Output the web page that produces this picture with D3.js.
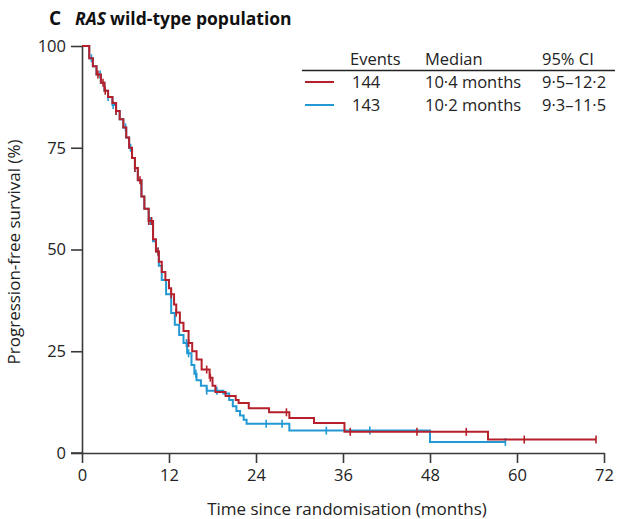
<!DOCTYPE html>
<html>
<head>
<meta charset="utf-8">
<script src="https://cdn.jsdelivr.net/npm/d3@7"></script>
<style>
  body { margin: 0; background: #fff; }
  svg { font-family: "Open Sans", Lato, sans-serif; }
</style>
</head>
<body>
<svg width="625" height="519"></svg>
<script>
// Kaplan-Meier steps: time (months) and survival (%) after each drop
const redTimes = [0, 1.0, 1.5, 2.0, 2.6, 3.1, 3.6, 4.2, 4.7, 5.2, 5.7, 6.1, 6.5, 6.9, 7.3, 7.7, 8.2, 8.6, 9.2, 9.8, 10.2, 10.6, 11.0, 11.5, 12.0, 12.3, 12.7, 13.0, 13.5, 14.0, 14.7, 15.2, 15.8, 16.5, 17.6, 18.0, 18.4, 19.8, 21.2, 21.6, 23.0, 25.8, 28.6, 32.0, 36.2, 56.0];
const redSurv  = [100, 97, 95, 93, 91, 89, 87.5, 86, 84, 82, 80, 77.5, 75, 72.5, 70, 67, 63, 60, 57, 52.5, 49.5, 47, 44.5, 42.5, 40.5, 39, 36.5, 34.5, 32, 30, 27, 25, 23, 20.5, 18.5, 16.5, 15, 14, 13, 12.3, 11, 10, 8.6, 7.4, 5.2, 3.3];
const redEnd = 70.9;
const redCensor = [2.2, 2.9, 3.2, 4.7, 7.3, 8.0, 9.2, 9.6, 10.5, 12.3, 13.0, 14.7, 17.2, 17.7, 28.2, 37.0, 46.2, 53.0, 61.0, 70.9];

const blueTimes = [0, 1.0, 1.5, 2.0, 2.6, 3.1, 3.6, 4.2, 4.7, 5.2, 5.7, 6.1, 6.5, 6.9, 7.3, 7.7, 8.2, 8.6, 9.2, 9.8, 10.2, 10.6, 11.0, 11.6, 12.3, 12.8, 13.4, 14.0, 14.5, 15.1, 15.5, 15.8, 16.4, 17.2, 19.5, 20.3, 20.8, 21.3, 21.8, 22.3, 22.7, 28.6, 48.0];
const blueSurv  = [100, 97, 95, 93, 91, 89, 87.5, 85.5, 84, 82, 80, 77.5, 75, 72.5, 70, 67, 63, 60, 57, 52, 49.5, 46, 42.5, 39, 34.4, 31.5, 29, 27, 24.5, 21.6, 19.5, 17.9, 16.5, 15.3, 14.6, 13, 11.5, 10.3, 9.2, 8.2, 7.2, 5.5, 2.7];
const blueEnd = 58.4;
const blueCensor = [1.3, 2.5, 3.6, 4.3, 4.7, 6.0, 6.7, 7.3, 9.4, 10.5, 14.4, 14.7, 15.7, 17.2, 18.6, 25.4, 27.6, 33.7, 39.7, 58.4];

const xTicks = [0, 12, 24, 36, 48, 60, 72];
const yTicks = [0, 25, 50, 75, 100];

const legendRows = [
  { events: "144", median: "10·4 months", ci: "9·5–12·2", color: "#b5202a" },
  { events: "143", median: "10·2 months", ci: "9·3–11·5", color: "#2399d3" }
];

const svg = d3.select("svg");
const axisColor = "#3a3a3a";
const font = '"Open Sans", Lato, sans-serif';

const x = d3.scaleLinear().domain([0, 72]).range([82, 604]);
const y = d3.scaleLinear().domain([0, 100]).range([453, 46]);

// axes
const xAxis = svg.append("g")
  .attr("transform", "translate(0," + y(0) + ")")
  .call(d3.axisBottom(x).tickValues(xTicks).tickSize(10).tickPadding(6).tickSizeOuter(0));
const yAxis = svg.append("g")
  .attr("transform", "translate(" + x(0) + ",0)")
  .call(d3.axisLeft(y).tickValues(yTicks).tickSize(11).tickPadding(5).tickSizeOuter(0));

[xAxis, yAxis].forEach(function(a) {
  a.select(".domain").attr("stroke", axisColor).attr("stroke-width", 1.6);
  a.selectAll(".tick line").attr("stroke", axisColor).attr("stroke-width", 1.6);
  a.selectAll(".tick text").attr("fill", "#222").style("font-size", "16.5px")
    .style("font-family", font);
});
// x axis line runs back under the y ticks a little
svg.append("line")
  .attr("x1", x(0) - 11).attr("x2", x(0))
  .attr("y1", y(0)).attr("y2", y(0))
  .attr("stroke", axisColor).attr("stroke-width", 1.6);

// survival at time t from a step series
function survAt(times, surv, t) {
  let s = surv[0];
  for (let i = 0; i < times.length; i++) if (times[i] <= t) s = surv[i];
  return s;
}

function stepPoints(times, surv, end) {
  const pts = times.map(function(t, i) { return [t, surv[i]]; });
  pts.push([end, surv[surv.length - 1]]);
  return pts;
}

const line = d3.line()
  .x(function(d) { return x(d[0]); })
  .y(function(d) { return y(d[1]); })
  .curve(d3.curveStepAfter);

const series = [
  { times: redTimes, surv: redSurv, end: redEnd, censor: redCensor, color: legendRows[0].color },
  { times: blueTimes, surv: blueSurv, end: blueEnd, censor: blueCensor, color: legendRows[1].color }
];

// draw blue first so red sits on top like the reference at the shared start
[series[1], series[0]].forEach(function(s) {
  svg.append("path")
    .attr("d", line(stepPoints(s.times, s.surv, s.end)))
    .attr("fill", "none")
    .attr("stroke", s.color)
    .attr("stroke-width", 2);

  svg.append("g").selectAll("line")
    .data(s.censor)
    .enter().append("line")
    .attr("x1", function(d) { return x(d); })
    .attr("x2", function(d) { return x(d); })
    .attr("y1", function(d) { return y(survAt(s.times, s.surv, d)) - 4; })
    .attr("y2", function(d) { return y(survAt(s.times, s.surv, d)) + 4; })
    .attr("stroke", s.color)
    .attr("stroke-width", 1.6);
});

// axis titles
svg.append("text")
  .attr("x", 347).attr("y", 515)
  .attr("text-anchor", "middle")
  .style("font-size", "17px").attr("fill", "#222")
  .text("Time since randomisation (months)");

svg.append("text")
  .attr("transform", "translate(20,252) rotate(-90)")
  .attr("text-anchor", "middle")
  .style("font-size", "17px").attr("fill", "#222")
  .text("Progression-free survival (%)");

// panel title
const title = svg.append("text")
  .attr("x", 49).attr("y", 25)
  .attr("fill", "#111");
title.append("tspan").style("font-size", "19px").style("font-weight", "bold").text("C");
title.append("tspan").attr("dx", 14).style("font-size", "17.5px").style("font-weight", "bold")
  .style("font-style", "italic").text("RAS");
title.append("tspan").attr("dx", 4).style("font-size", "17.5px").style("font-weight", "bold")
  .text("wild-type population");

// legend table
const lg = svg.append("g").style("font-size", "16.5px").attr("fill", "#222");
const colX = [350, 425, 542];
["Events", "Median", "95% CI"].forEach(function(h, i) {
  lg.append("text").attr("x", colX[i]).attr("y", 65).text(h);
});
lg.append("line")
  .attr("x1", 302).attr("x2", 615).attr("y1", 70.5).attr("y2", 70.5)
  .attr("stroke", "#222").attr("stroke-width", 1.4);

legendRows.forEach(function(r, i) {
  const yy = 88 + i * 23;
  lg.append("line")
    .attr("x1", 305).attr("x2", 334)
    .attr("y1", yy - 6).attr("y2", yy - 6)
    .attr("stroke", r.color).attr("stroke-width", 2);
  lg.append("text").attr("x", colX[0] + 2).attr("y", yy).text(r.events);
  lg.append("text").attr("x", colX[1]).attr("y", yy).text(r.median);
  lg.append("text").attr("x", colX[2]).attr("y", yy).text(r.ci);
});
</script>
</body>
</html>
